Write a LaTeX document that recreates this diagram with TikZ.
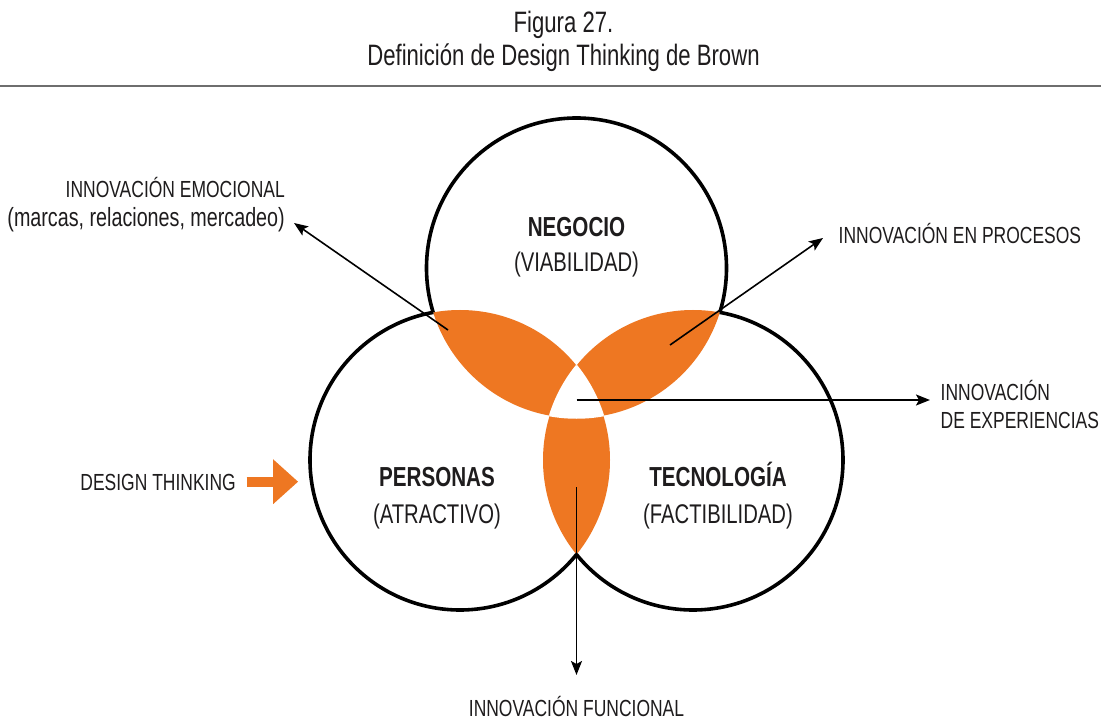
\documentclass[tikz,border=0pt]{standalone}
\usepackage{fontspec}
\setmainfont{Liberation Sans}[FakeStretch=0.75]
\usetikzlibrary{arrows.meta}
\definecolor{dtorange}{RGB}{238,119,34}
\definecolor{txt}{RGB}{30,28,29}
\definecolor{rulegray}{RGB}{110,110,110}
\newcommand{\labsize}{\fontsize{23.3pt}{28pt}\selectfont}
\newcommand{\lowsize}{\fontsize{26.3pt}{30pt}\selectfont}
\newcommand{\headsize}{\fontsize{27.5pt}{32pt}\selectfont\bfseries}
\newcommand{\subsize}{\fontsize{27pt}{31pt}\selectfont}
\newcommand{\titsize}{\fontsize{29.5pt}{33pt}\selectfont}
\begin{document}
\begin{tikzpicture}[x=1pt,y=-1pt,
  lab/.style={inner sep=0pt, text=txt, font=\labsize},
  lowlab/.style={inner sep=0pt, text=txt, font=\lowsize},
  head/.style={inner sep=0pt, text=txt, font=\headsize, anchor=base},
  sub/.style={inner sep=0pt, text=txt, font=\subsize, anchor=base},
  tit/.style={inner sep=0pt, text=txt, font=\titsize, anchor=base},
  pointer/.style={draw=black, line width=1.6pt, -{Stealth[length=14pt,width=11pt,inset=3pt]}},
  ring/.style={line width=3.6pt, draw=black},
  lens/.style={fill=dtorange},
]
\useasboundingbox (0,0) rectangle (1101,719);
\fill[white] (0,0) rectangle (1101,719);

% title
\node[tit] (fig) at (563.5,33) {Figura 27.};
\node[tit] (ttl) at (563.5,66) {Definición de Design Thinking de Brown};
\draw[rulegray, line width=2pt] (0,86) -- (1101,86);

% circle centres
\coordinate (T) at (576.5,268);
\coordinate (L) at (460,460);
\coordinate (R) at (693,460);

% orange intersections
\begin{scope}
  \clip (T) circle (150pt);
  \fill[lens] (L) circle (150pt);
  \fill[lens] (R) circle (150pt);
\end{scope}
\begin{scope}
  \clip (L) circle (150pt);
  \fill[lens] (R) circle (150pt);
\end{scope}
% white centre
\begin{scope}
  \clip (T) circle (150pt);
  \clip (L) circle (150pt);
  \fill[white] (R) circle (150pt);
\end{scope}
\begin{scope}
  \clip (T) circle (150pt);
  \clip (L) circle (150pt);
  \draw[white, line width=1.5pt] (R) circle (150pt);
\end{scope}
\begin{scope}
  \clip (T) circle (150pt);
  \clip (R) circle (150pt);
  \draw[white, line width=1.5pt] (L) circle (150pt);
\end{scope}
\begin{scope}
  \clip (L) circle (150pt);
  \clip (R) circle (150pt);
  \draw[white, line width=1.5pt] (T) circle (150pt);
\end{scope}

% outer outlines
\begin{scope}[even odd rule]
  \clip (-20,-20) rectangle (1121,739) (L) circle (150pt);
  \clip (-20,-20) rectangle (1121,739) (R) circle (150pt);
  \draw[ring] (T) circle (150pt);
\end{scope}
\begin{scope}[even odd rule]
  \clip (-20,-20) rectangle (1121,739) (T) circle (150pt);
  \clip (-20,-20) rectangle (1121,739) (R) circle (150pt);
  \draw[ring] (L) circle (150pt);
\end{scope}
\begin{scope}[even odd rule]
  \clip (-20,-20) rectangle (1121,739) (T) circle (150pt);
  \clip (-20,-20) rectangle (1121,739) (L) circle (150pt);
  \draw[ring] (R) circle (150pt);
\end{scope}

% circle texts
\node[head] (neg) at (576.5,236.5) {NEGOCIO};
\node[sub] (via) at (576.5,272) {(VIABILIDAD)};
\node[head] (per) at (437,486) {PERSONAS};
\node[sub] (atr) at (437,523) {(ATRACTIVO)};
\node[head] (tec) at (718,486) {TECNOLOGÍA};
\node[sub] (fac) at (718,523) {(FACTIBILIDAD)};

% outer labels
\node[lab, anchor=base east] (emo1) at (285,197.5) {INNOVACIÓN EMOCIONAL};
\node[lowlab, anchor=base east] (emo2) at (285,227) {(marcas, relaciones, mercadeo)};
\node[lab, anchor=base west] (pro) at (838.5,243.3) {INNOVACIÓN EN PROCESOS};
\node[lab, anchor=base west] (exp1) at (940.5,400) {INNOVACIÓN};
\node[lab, anchor=base west] (exp2) at (940.5,428.3) {DE EXPERIENCIAS};
\node[lab, anchor=base] (fun) at (576.5,716.3) {INNOVACIÓN FUNCIONAL};
\node[lab, anchor=base east] (dt) at (236,490) {DESIGN THINKING};

% pointers
\coordinate (emoS) at (448,330);
\coordinate (emoE) at (294,223);
\draw[pointer] (emoS) -- (emoE);
\coordinate (proS) at (670,345);
\coordinate (proE) at (823,238);
\draw[pointer] (proS) -- (proE);
\coordinate (expS) at (576.5,400);
\coordinate (expE) at (930,400);
\draw[pointer] (expS) -- (expE);
\coordinate (funS) at (576.5,487);
\coordinate (funE) at (576.5,675);
\draw[pointer] (funS) -- (funE);

% design thinking arrow
\coordinate (dtE) at (298,481.7);
\draw[dtorange, line width=10pt, -{Triangle[length=25pt,width=45pt,line width=0pt]}] ([xshift=10.5pt]dt.east |- dtE) -- (dtE);
\end{tikzpicture}
\end{document}
